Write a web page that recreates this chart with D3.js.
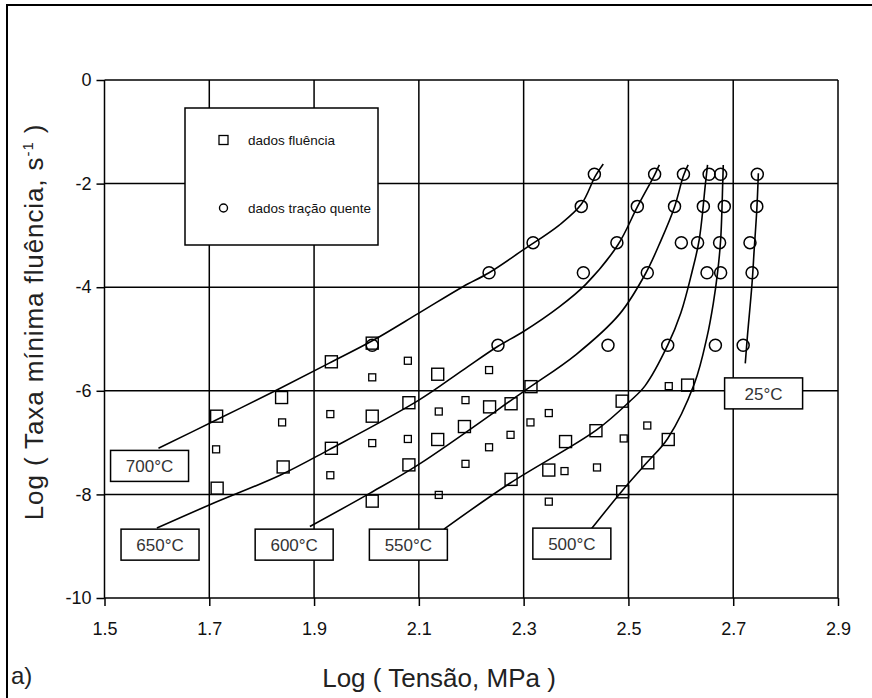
<!DOCTYPE html>
<html>
<head>
<meta charset="utf-8">
<script src="https://cdn.jsdelivr.net/npm/d3@7"></script>
<style>
  html, body { margin: 0; padding: 0; background: #fff; }
  svg { display: block; font-family: "Liberation Sans", Arial, Helvetica, sans-serif; }
</style>
</head>
<body>
<svg id="chart" width="872" height="698"></svg>
<script>
// Axis ticks
const xTickValues = [1.5, 1.7, 1.9, 2.1, 2.3, 2.5, 2.7, 2.9];
const yTickValues = [0, -2, -4, -6, -8, -10];

// Creep tests (dados fluência): two groups of square markers
const creepLarge = [
  [1.714, -6.49], [1.715, -7.88], [1.838, -6.13], [1.841, -7.47],
  [1.933, -5.44], [1.933, -7.11], [2.011, -5.08], [2.011, -6.49],
  [2.011, -8.13], [2.081, -6.23], [2.081, -7.43], [2.136, -5.68],
  [2.136, -6.94], [2.187, -6.69], [2.235, -6.31], [2.276, -6.25],
  [2.276, -7.71], [2.314, -5.92], [2.348, -7.53], [2.380, -6.98],
  [2.438, -6.77], [2.488, -6.20], [2.489, -7.95], [2.537, -7.39],
  [2.576, -6.94], [2.613, -5.89]
];
const creepSmall = [
  [1.713, -7.13], [1.839, -6.61], [1.931, -6.45], [1.931, -7.63],
  [2.011, -5.74], [2.011, -7.01], [2.079, -5.42], [2.079, -6.93],
  [2.138, -6.40], [2.138, -8.01], [2.189, -6.18], [2.189, -7.41],
  [2.234, -5.60], [2.234, -7.09], [2.275, -6.85], [2.313, -6.61],
  [2.348, -6.43], [2.348, -8.14], [2.378, -7.55], [2.440, -7.48],
  [2.491, -6.92], [2.536, -6.67], [2.577, -5.91]
];

// Hot tensile tests (dados tração quente)
const hotTensile = [
  [2.435, -1.82], [2.550, -1.82], [2.605, -1.82], [2.654, -1.82], [2.676, -1.82], [2.746, -1.82],
  [2.410, -2.44], [2.517, -2.44], [2.588, -2.44], [2.643, -2.44], [2.683, -2.44], [2.745, -2.44],
  [2.318, -3.14], [2.478, -3.14], [2.601, -3.14], [2.632, -3.14], [2.674, -3.14], [2.732, -3.14],
  [2.234, -3.72], [2.414, -3.72], [2.536, -3.72], [2.650, -3.72], [2.676, -3.72], [2.736, -3.72],
  [2.011, -5.12], [2.251, -5.12], [2.461, -5.12], [2.575, -5.12], [2.666, -5.12], [2.719, -5.12]
];

// Fitted curves, one per temperature
const curve700 = [[1.603, -7.11], [1.714, -6.56], [1.828, -5.99], [1.928, -5.47], [2.012, -5.03],
  [2.100, -4.50], [2.184, -3.99], [2.234, -3.72], [2.299, -3.28], [2.368, -2.80], [2.410, -2.40],
  [2.437, -1.85], [2.452, -1.62]];
const curve650 = [[1.600, -8.65], [1.701, -8.20], [1.835, -7.63], [1.928, -7.14], [2.100, -6.18],
  [2.184, -5.60], [2.251, -5.14], [2.299, -4.86], [2.368, -4.38], [2.419, -3.94], [2.480, -3.18],
  [2.517, -2.45], [2.550, -1.83], [2.559, -1.64]];
const curve600 = [[1.892, -8.62], [2.006, -7.98], [2.100, -7.42], [2.299, -6.02], [2.400, -5.30],
  [2.483, -4.52], [2.532, -3.75], [2.562, -3.10], [2.588, -2.45], [2.605, -1.85], [2.614, -1.64]];
const curve550 = [[2.148, -8.67], [2.273, -7.79], [2.440, -6.75], [2.502, -6.21], [2.532, -5.90],
  [2.575, -5.12], [2.600, -4.50], [2.621, -3.72], [2.635, -3.09], [2.647, -2.00], [2.651, -1.64]];
const curve500 = [[2.429, -8.67], [2.489, -7.92], [2.534, -7.40], [2.575, -6.92], [2.626, -5.86],
  [2.650, -4.96], [2.662, -4.31], [2.670, -3.73], [2.676, -3.09], [2.680, -1.99], [2.681, -1.64]];
const curve25 = [[2.723, -5.47], [2.727, -4.96], [2.736, -3.92], [2.740, -3.28], [2.745, -2.51],
  [2.748, -1.80]];

const curves = [curve700, curve650, curve600, curve550, curve500, curve25];

// Temperature tags, anchored in data units
const tempLabels = ["700°C", "650°C", "600°C", "550°C", "500°C", "25°C"];
const tempLabelX = [1.586, 1.606, 1.862, 2.080, 2.392, 2.758];
const tempLabelY = [-7.45, -8.97, -8.97, -8.97, -8.95, -6.05];

const legendLabels = ["dados fluência", "dados tração quente"];

const svg = d3.select("#chart");

const x = d3.scaleLinear().domain([1.5, 2.9]).range([104.5, 838]);
const y = d3.scaleLinear().domain([-10, 0]).range([598, 80]);

// outer frame
svg.append("path")
  .attr("d", "M7,698 V5 H872")
  .attr("fill", "none").attr("stroke", "#000").attr("stroke-width", 2);

// grid
const grid = svg.append("g").attr("stroke", "#000").attr("stroke-width", 1.5);
grid.selectAll("line.v").data(xTickValues).join("line")
  .attr("class", "v")
  .attr("x1", d => x(d)).attr("x2", d => x(d))
  .attr("y1", y(0)).attr("y2", y(-10));
grid.selectAll("line.h").data(yTickValues).join("line")
  .attr("class", "h")
  .attr("x1", x(1.5)).attr("x2", x(2.9))
  .attr("y1", d => y(d)).attr("y2", d => y(d));

// axes
const xAxis = d3.axisBottom(x).tickValues(xTickValues).tickFormat(d3.format(".1f"))
  .tickSizeOuter(0).tickSize(8).tickPadding(16);
const gx = svg.append("g").attr("transform", `translate(0,${y(-10)})`).call(xAxis);
const yAxis = d3.axisLeft(y).tickValues(yTickValues).tickFormat(d => String(d))
  .tickSizeOuter(0).tickSize(8).tickPadding(5);
const gy = svg.append("g").attr("transform", `translate(${x(1.5)},0)`).call(yAxis);
[gx, gy].forEach(g => {
  g.select(".domain").remove();
  g.selectAll(".tick line").attr("stroke", "#000").attr("stroke-width", 1.5);
  g.selectAll(".tick text").attr("fill", "#111").attr("font-size", 18)
    .attr("font-family", "\"Liberation Sans\", Arial, sans-serif");
});

// legend box
const legend = svg.append("g");
legend.append("rect")
  .attr("x", 185).attr("y", 108).attr("width", 193).attr("height", 137)
  .attr("fill", "#fff").attr("stroke", "#000").attr("stroke-width", 1.5);
legend.append("rect")
  .attr("x", 219).attr("y", 135.5).attr("width", 9).attr("height", 9)
  .attr("fill", "none").attr("stroke", "#000").attr("stroke-width", 1.3);
legend.append("circle")
  .attr("cx", 223.5).attr("cy", 208).attr("r", 4)
  .attr("fill", "none").attr("stroke", "#000").attr("stroke-width", 1.4);
legend.selectAll("text").data(legendLabels).join("text")
  .attr("x", 248).attr("y", (d, i) => [145, 213][i])
  .attr("font-size", 13.5).attr("fill", "#111")
  .text(d => d);

// fitted curves
const line = d3.line().x(d => x(d[0])).y(d => y(d[1])).curve(d3.curveCatmullRom.alpha(0.5));
svg.append("g").selectAll("path").data(curves).join("path")
  .attr("d", line)
  .attr("fill", "none").attr("stroke", "#000").attr("stroke-width", 1.6);

// temperature tags
const tags = svg.append("g").selectAll("g").data(tempLabels).join("g")
  .attr("transform", (d, i) => `translate(${x(tempLabelX[i])},${y(tempLabelY[i])})`);
tags.append("rect")
  .attr("x", -39).attr("y", -15.5).attr("width", 78).attr("height", 31)
  .attr("fill", "#fff").attr("stroke", "#000").attr("stroke-width", 1.5);
tags.append("text")
  .attr("text-anchor", "middle").attr("dy", "0.36em")
  .attr("font-size", 17).attr("fill", "#333")
  .text(d => d);

// markers
svg.append("g").selectAll("rect").data(creepLarge).join("rect")
  .attr("x", d => x(d[0]) - 6).attr("y", d => y(d[1]) - 6)
  .attr("width", 12).attr("height", 12)
  .attr("fill", "none").attr("stroke", "#000").attr("stroke-width", 1.4);
svg.append("g").selectAll("rect").data(creepSmall).join("rect")
  .attr("x", d => x(d[0]) - 3.5).attr("y", d => y(d[1]) - 3.5)
  .attr("width", 7).attr("height", 7)
  .attr("fill", "none").attr("stroke", "#000").attr("stroke-width", 1.3);
svg.append("g").selectAll("circle").data(hotTensile).join("circle")
  .attr("cx", d => x(d[0])).attr("cy", d => y(d[1])).attr("r", 6)
  .attr("fill", "none").attr("stroke", "#000").attr("stroke-width", 1.5);

// axis titles
svg.append("text")
  .attr("x", 439).attr("y", 687)
  .attr("text-anchor", "middle").attr("font-size", 26).attr("fill", "#222")
  .text("Log ( Tensão, MPa )");

const yTitle = svg.append("text")
  .attr("transform", "translate(43,322) rotate(-90)")
  .attr("text-anchor", "middle").attr("font-size", 26).attr("fill", "#222")
  .attr("letter-spacing", 0.9);
yTitle.append("tspan").text("Log  ( Taxa mínima fluência,  s");
yTitle.append("tspan").attr("dy", -10).attr("font-size", 15).text("-1");
yTitle.append("tspan").attr("dy", 10).text("  )");

svg.append("text")
  .attr("x", 11).attr("y", 684)
  .attr("font-size", 24).attr("fill", "#222")
  .text("a)");
</script>
</body>
</html>
